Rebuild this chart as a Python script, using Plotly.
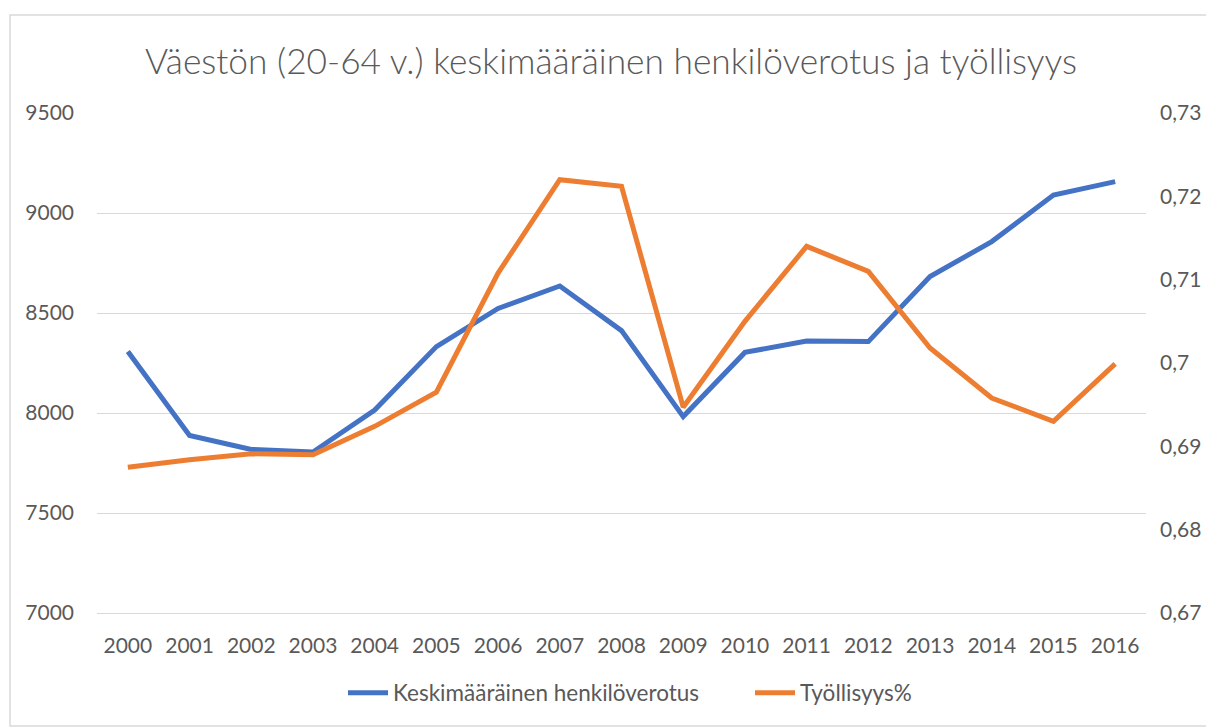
import plotly.graph_objects as go

years = [str(y) for y in range(2000, 2017)]
verotus = [8308, 7888, 7818, 7805, 8015, 8332, 8523, 8635, 8412, 7982, 8303, 8360, 8357, 8682, 8857, 9090, 9157]
tyollisyys = [0.6875, 0.6884, 0.6891, 0.6890, 0.6924, 0.6965, 0.7108, 0.7220, 0.7212, 0.6947, 0.7050,
              0.7140, 0.7110, 0.7018, 0.6958, 0.6930, 0.6999]

title_text = "Väestön (20-64 v.) keskimääräinen henkilöverotus ja työllisyys"
name1 = "Keskimääräinen henkilöverotus"
name2 = "Työllisyys%"

FONT = "Lato, Carlito, Calibri, sans-serif"
GREY = "#595959"

fig = go.Figure()
fig.add_trace(go.Scatter(x=years, y=verotus, name=name1, mode="lines",
                         line=dict(color="#4472C4", width=5)))
fig.add_trace(go.Scatter(x=years, y=tyollisyys, name=name2, mode="lines", yaxis="y2",
                         line=dict(color="#ED7D31", width=5)))

# page body has an 8px margin, so the figure is offset by 8px
OFF = 8
W, H = 1214 - OFF, 727 - OFF
L, R, T, B = 97 - OFF, 1214 - 1146, 113 - OFF, 727 - 613
pw, ph = W - L - R, H - T - B

def py(screen_y):
    return (613 - screen_y) / ph

def px(screen_x):
    return (screen_x - 97) / pw

fig.update_layout(
    width=W, height=H,
    margin=dict(l=L, r=R, t=T, b=B, autoexpand=False),
    paper_bgcolor="white", plot_bgcolor="white",
    separators=", ",
    font=dict(family=FONT, color=GREY, size=21),
    title=dict(text=title_text, x=0.5, xanchor="center", y=1 - (62 - OFF) / H, yanchor="middle",
               font=dict(family=FONT, size=35.3, color=GREY, weight=300)),
    xaxis=dict(type="category", range=[-0.5, len(years) - 0.5], showgrid=False,
               showline=True, linecolor="#D9D9D9", linewidth=1, zeroline=False, ticks="",
               tickfont=dict(size=21, color=GREY), ticklabelstandoff=14, automargin=False),
    yaxis=dict(range=[7000, 9500], dtick=500, showgrid=True, gridcolor="#D9D9D9", gridwidth=1,
               zeroline=False, showline=False, ticks="", tickfont=dict(size=21, color=GREY),
               ticklabelstandoff=22, automargin=False),
    yaxis2=dict(range=[0.67, 0.73], dtick=0.01, overlaying="y", side="right", showgrid=False,
                zeroline=False, showline=False, ticks="", tickfont=dict(size=21, color=GREY),
                ticklabelstandoff=13, automargin=False),
    legend=dict(orientation="h", x=px(343), xanchor="left", y=py(693), yanchor="middle",
                font=dict(size=22.5, color=GREY), itemwidth=40, entrywidth=352,
                entrywidthmode="pixels", bgcolor="rgba(0,0,0,0)"),
    shapes=[dict(type="rect", xref="paper", yref="paper",
                 x0=px(10), x1=px(1213), y0=py(726), y1=py(15),
                 line=dict(color="#D9D9D9", width=1.5), fillcolor="rgba(0,0,0,0)", layer="below")],
)

fig.write_html("out.html")
